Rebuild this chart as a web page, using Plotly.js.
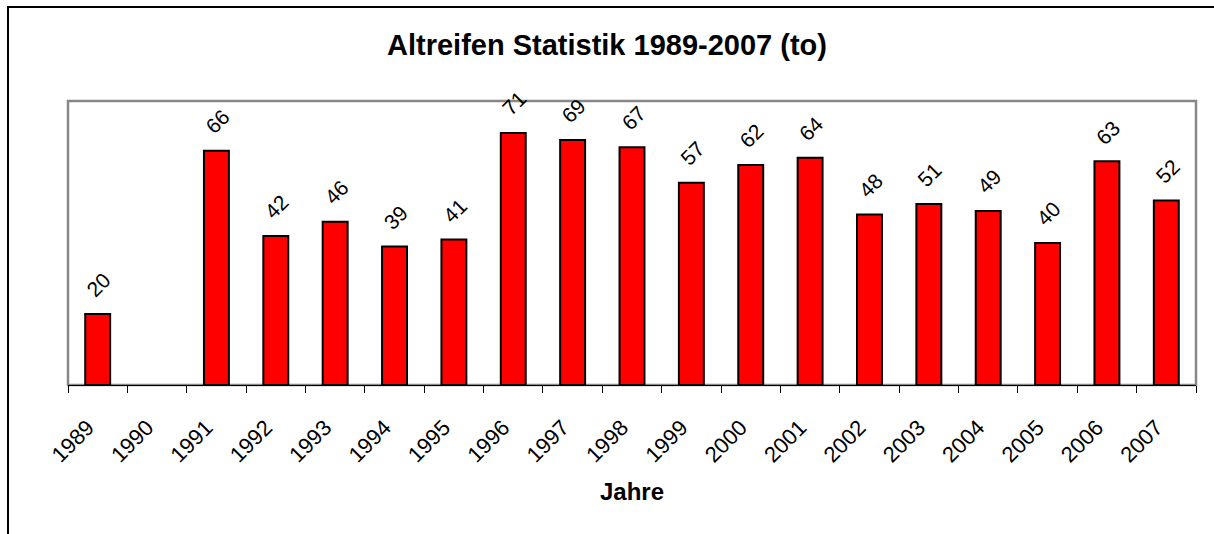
<!DOCTYPE html>
<html>
<head>
<meta charset="utf-8">
<script src="https://cdn.plot.ly/plotly-3.0.1.min.js"></script>
<style>
html,body{margin:0;padding:0;background:#fff;}
#chart{width:1214px;height:534px;}
</style>
</head>
<body>
<div id="chart"></div>
<script>
const years = ["1989","1990","1991","1992","1993","1994","1995","1996","1997","1998","1999","2000","2001","2002","2003","2004","2005","2006","2007"];
const tonnes = [20, null, 66, 42, 46, 39, 41, 71, 69, 67, 57, 62, 64, 48, 51, 49, 40, 63, 52];
const titleText = "Altreifen Statistik 1989-2007 (to)";
const xTitle = "Jahre";

const FONT = "Arial, 'Liberation Sans', sans-serif";

const trace = {
  type: "bar",
  x: years,
  y: tonnes,
  marker: {color: "#ff0000", line: {color: "#000", width: 2}},
  hoverinfo: "x+y"
};

const valueLabels = [];
years.forEach((yr, i) => {
  if (tonnes[i] === null) return;
  valueLabels.push({
    x: i, y: tonnes[i], xref: "x", yref: "y",
    text: String(tonnes[i]), showarrow: false,
    textangle: -45, xanchor: "center", yanchor: "bottom",
    xshift: 1, yshift: 10,
    font: {family: FONT, size: 21, color: "#000"}
  });
});

const L = 68, R = 18, T = 101, B = 149;
const pw = 1214 - L - R, ph = 534 - T - B;

const layout = {
  width: 1214, height: 534,
  margin: {l: L, r: R, t: T, b: B, pad: 0},
  paper_bgcolor: "#fff",
  plot_bgcolor: "#fff",
  showlegend: false,
  bargap: 0.58,
  font: {family: FONT, color: "#000"},
  title: {text: "<b>" + titleText + "</b>", font: {family: FONT, size: 29, color: "#000"},
          x: 0.5, xanchor: "center", y: 1 - 45/534, yanchor: "middle"},
  xaxis: {
    type: "category",
    range: [-0.5, years.length - 0.5],
    autorange: false,
    tickangle: -45,
    tickfont: {family: FONT, size: 22, color: "#000"},
    ticks: "outside", ticklen: 7, tickcolor: "#000", tickwidth: 1,
    tickson: "boundaries",
    ticklabelstandoff: 20,
    ticklabelshift: -10,
    showline: true, linecolor: "#000", linewidth: 1,
    showgrid: false, zeroline: false,
    title: {text: "<b>" + xTitle + "</b>", font: {family: FONT, size: 24, color: "#000"}, standoff: 16},
    automargin: false
  },
  yaxis: {
    range: [0, 80],
    autorange: false,
    showticklabels: false, ticks: "", showgrid: false, zeroline: false, showline: false,
    automargin: false
  },
  annotations: valueLabels,
  shapes: [
    {type: "rect", xref: "paper", yref: "paper", x0: 0, x1: 1, y0: 0, y1: 1,
     line: {color: "#888", width: 2.5}, layer: "below"},
    {type: "rect", xref: "paper", yref: "paper",
     x0: (8 - L) / pw, x1: (1240 - L) / pw, y0: -(600 - (534 - B)) / ph, y1: 1 + (T - 7) / ph,
     line: {color: "#000", width: 2}, layer: "below"}
  ]
};

Plotly.newPlot("chart", [trace], layout, {displayModeBar: false, staticPlot: true});
</script>
</body>
</html>
